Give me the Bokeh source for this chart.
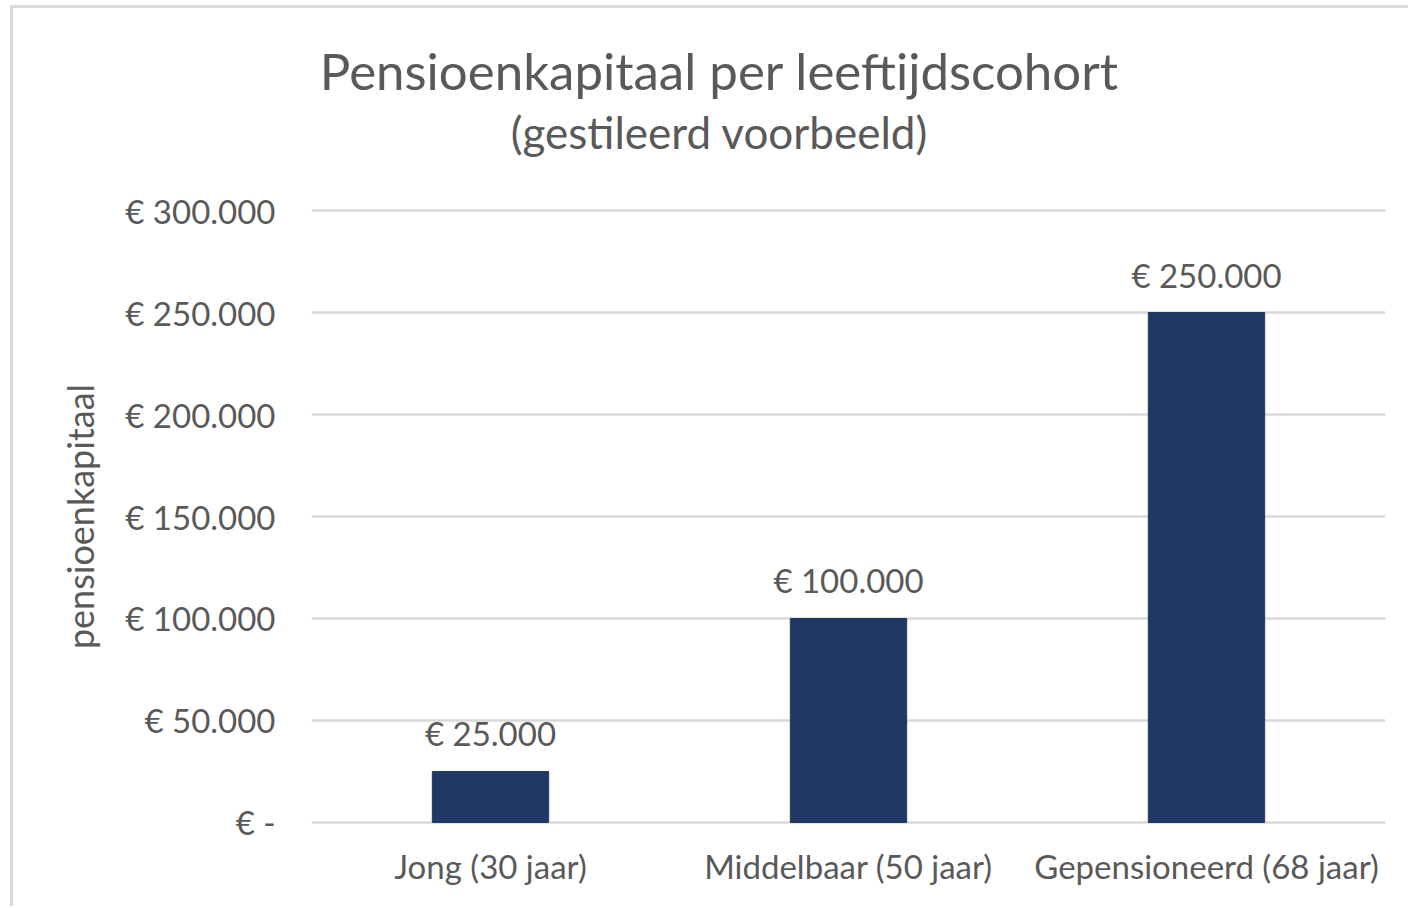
from bokeh.plotting import figure
from bokeh.layouts import column
from bokeh.models import (ColumnDataSource, Range1d, FixedTicker, LabelSet, Label)
from bokeh.core.properties import value
from bokeh.embed import file_html
from bokeh.resources import INLINE

# ---- data ----
categories = ["Jong (30 jaar)", "Middelbaar (50 jaar)", "Gepensioneerd (68 jaar)"]
capital = [25000, 100000, 250000]
capital_labels = ["€ 25.000", "€ 100.000", "€ 250.000"]
y_ticks = [0, 50000, 100000, 150000, 200000, 250000, 300000]
y_tick_labels = ["€ -", "€ 50.000", "€ 100.000", "€ 150.000", "€ 200.000", "€ 250.000", "€ 300.000"]
title_text = "Pensioenkapitaal per leeftijdscohort"
subtitle_text = "(gestileerd voorbeeld)"
y_label = "pensioenkapitaal"

FONT = "Lato"
TXT = "#595959"
BAR = "#203864"
GRID = "#d9d9d9"

X0, Y0 = 13, 8          # page position of the chart content (inside border)
W = 1395
HT = 170                # title strip height
H2 = 728                # plot height
FL, FR = 311, 1385      # page x of the plot area

# ---- title strip (frame aligned with the plot area) ----
tf = figure(frame_width=FR - FL, frame_height=HT,
            x_range=Range1d(FL, FR), y_range=Range1d(Y0 + HT, Y0),
            title=None, x_axis_location=None, y_axis_location=None,
            output_backend="svg", toolbar_location=None,
            min_border_left=FL - X0, min_border_right=X0 + W - FR,
            min_border_top=0, min_border_bottom=0)
tf.grid.visible = False
tf.outline_line_color = None
tf.background_fill_color = "white"
tf.border_fill_color = "white"
tf.add_layout(Label(x=719, y=70, text=title_text, text_align="center",
                    text_baseline="alphabetic", text_font=FONT,
                    text_font_size="51px", text_color=TXT))
tf.add_layout(Label(x=719, y=131, text=subtitle_text, text_align="center",
                    text_baseline="alphabetic", text_font=FONT,
                    text_font_size="44px", text_color=TXT))

# ---- main chart ----
PAD = 1000  # small range padding so the gridlines at 0 and 300.000 are drawn
p = figure(x_range=categories, y_range=Range1d(-PAD, 300000 + PAD), width=W, height=H2,
           output_backend="svg", toolbar_location=None,
           min_border_left=FL - X0, min_border_right=X0 + W - FR,
           min_border_top=208 - (Y0 + HT), min_border_bottom=(Y0 + HT + H2) - 824)
p.outline_line_color = None
p.background_fill_color = "white"
p.border_fill_color = "white"

src = ColumnDataSource(dict(cat=categories, val=capital, lab=capital_labels))
p.vbar(x="cat", top="val", width=0.325, source=src, fill_color=BAR, line_color=BAR)

labels = LabelSet(x="cat", y="val", text="lab", source=src, y_offset=25,
                  text_align="center", text_baseline="alphabetic",
                  text_font=value(FONT), text_font_size="33px", text_color=TXT)
p.add_layout(labels)

p.yaxis.ticker = FixedTicker(ticks=y_ticks)
p.yaxis.major_label_overrides = {t: s for t, s in zip(y_ticks, y_tick_labels)}
for ax in (p.xaxis[0], p.yaxis[0]):
    ax.axis_line_color = None
    ax.major_tick_line_color = None
    ax.minor_tick_line_color = None
    ax.major_tick_out = 0
    ax.major_tick_in = 0
    ax.major_label_text_font = FONT
    ax.major_label_text_font_size = "33px"
    ax.major_label_text_color = TXT
p.yaxis.major_label_standoff = 36
p.xaxis.major_label_standoff = 21
p.yaxis.axis_label = y_label
p.yaxis.axis_label_text_font = FONT
p.yaxis.axis_label_text_font_size = "36px"
p.yaxis.axis_label_text_font_style = "normal"
p.yaxis.axis_label_text_color = TXT
p.yaxis.axis_label_standoff = 20

p.xgrid.grid_line_color = None
p.ygrid.grid_line_color = GRID
p.ygrid.grid_line_width = 2.5

layout = column(tf, p, spacing=0,
                styles={"margin-left": "10px", "margin-top": "5px",
                        "border-left": "3px solid #d9d9d9",
                        "border-top": "3px solid #d9d9d9"})

open("out.html", "w").write(file_html(layout, INLINE))
